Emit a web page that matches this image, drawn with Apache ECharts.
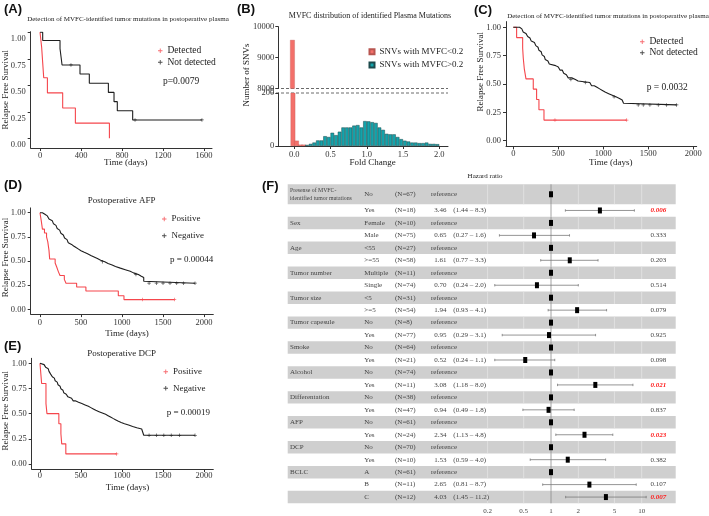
<!DOCTYPE html>
<html><head><meta charset="utf-8">
<script src="https://cdn.jsdelivr.net/npm/echarts@6/dist/echarts.min.js"></script>
<style>html,body{margin:0;padding:0;background:#fff}#c{width:709px;height:516px}</style>
</head><body><div id="c"></div>
<script>
// ---------------- DATA ----------------
// Panel A: Kaplan-Meier (time in days, survival)
const kmA_detected = [[0,1],[16,0.857],[26,0.714],[36,0.571],[72,0.429],[221,0.286],[345,0.143],[677,0]];
const kmA_notDetected = [[0,1],[26,0.923],[195,0.846],[205,0.769],[215,0.692],[390,0.606],[481,0.519],[667,0.433],[722,0.346],[754,0.260],[904,0.173],[1580,0.173]];
const censA_notDetected = [[302,0.692],[927,0.173],[1580,0.173]];
const pA = 'p=0.0079';

// Panel C
const kmC_detected = [[0,1],[37,0.909],[104,0.818],[111,0.727],[122,0.636],[141,0.545],[222,0.455],[259,0.364],[285,0.273],[341,0.182],[1260,0.182]];
const censC_detected = [[463,0.182],[1260,0.182]];
const kmC_notDetected = [[0,1],[70,1],[80,0.986],[95,0.973],[110,0.959],[125,0.946],[140,0.932],[160,0.919],[170,0.905],[185,0.892],[200,0.878],[215,0.865],[235,0.851],[250,0.838],[262,0.824],[275,0.811],[285,0.797],[300,0.784],[310,0.770],[320,0.757],[335,0.743],[345,0.730],[355,0.716],[370,0.703],[385,0.689],[400,0.676],[420,0.662],[470,0.649],[500,0.635],[520,0.622],[545,0.608],[560,0.595],[580,0.581],[590,0.568],[610,0.554],[650,0.540],[690,0.527],[720,0.513],[850,0.499],[870,0.485],[900,0.471],[930,0.457],[960,0.443],[990,0.429],[1020,0.415],[1060,0.401],[1100,0.387],[1140,0.373],[1180,0.359],[1210,0.345],[1225,0.330],[1240,0.316],[1815,0.316]];
const censC_notDetected = [[640,0.540],[800,0.513],[1120,0.387],[1388,0.316],[1444,0.316],[1518,0.316],[1611,0.316],[1704,0.316],[1815,0.316]];
const pC = 'p = 0.0032';

// Panel D (Postoperative AFP)
const kmD_positive = [[0,1],[15,0.92],[30,0.83],[55,0.79],[80,0.75],[95,0.70],[110,0.61],[118,0.52],[185,0.48],[203,0.44],[224,0.39],[244,0.35],[297,0.31],[317,0.27],[447,0.23],[560,0.19],[955,0.14],[1024,0.10],[1640,0.10]];
const censD_positive = [[1250,0.10],[1640,0.10]];
const kmD_negative = [[0,1],[30,0.984],[60,0.967],[90,0.951],[110,0.934],[130,0.918],[150,0.902],[165,0.885],[180,0.869],[195,0.852],[210,0.836],[225,0.820],[240,0.803],[255,0.787],[270,0.770],[285,0.754],[300,0.738],[315,0.721],[330,0.705],[345,0.689],[360,0.672],[385,0.656],[410,0.639],[440,0.623],[470,0.607],[500,0.590],[540,0.574],[580,0.557],[620,0.541],[660,0.525],[700,0.508],[740,0.492],[790,0.475],[830,0.459],[880,0.443],[920,0.426],[980,0.410],[1040,0.393],[1100,0.377],[1140,0.361],[1200,0.344],[1230,0.328],[1265,0.290],[1280,0.270],[1890,0.270]];
const censD_negative = [[760,0.492],[1170,0.361],[1330,0.270],[1420,0.270],[1500,0.270],[1585,0.270],[1667,0.270],[1750,0.270],[1890,0.270]];
const pD = 'p = 0.00044';

// Panel E (Postoperative DCP)
const kmE_positive = [[0,1],[20,0.8],[73,0.6],[85,0.5],[230,0.4],[255,0.3],[265,0.2],[315,0.1],[935,0.1]];
const censE_positive = [[935,0.1]];
const kmE_negative = [[0,1],[20,0.987],[50,0.973],[70,0.96],[85,0.947],[100,0.933],[110,0.92],[120,0.907],[130,0.893],[140,0.88],[150,0.867],[160,0.853],[175,0.84],[185,0.827],[200,0.813],[210,0.80],[220,0.787],[235,0.773],[245,0.76],[255,0.747],[265,0.733],[280,0.72],[290,0.707],[305,0.693],[320,0.68],[340,0.667],[360,0.653],[385,0.64],[405,0.627],[430,0.613],[470,0.60],[510,0.587],[550,0.573],[590,0.56],[620,0.547],[650,0.533],[680,0.52],[720,0.507],[760,0.493],[800,0.48],[830,0.467],[860,0.453],[890,0.44],[920,0.427],[950,0.413],[990,0.40],[1030,0.387],[1080,0.373],[1130,0.36],[1180,0.347],[1240,0.333],[1255,0.31],[1265,0.285],[1890,0.285]];
const censE_negative = [[1330,0.285],[1420,0.285],[1510,0.285],[1600,0.285],[1700,0.285],[1890,0.285]];
const pE = 'p = 0.00019';

const survTicks = [0,0.25,0.5,0.75,1];
const timeTicksA = [0,400,800,1200,1600];
const timeTicks = [0,500,1000,1500,2000];

// Panel B: histogram of MVFC (fold change bins, width 0.05)
const lowBins = [-0.025,0.025,0.075,0.125];
const lowCounts = [9570,20,5,5];
const highBins = [0.175,0.225,0.275,0.325,0.375,0.425,0.475,0.525,0.575,0.625,0.675,0.725,0.775,0.825,0.875,0.925,0.975,1.025,1.075,1.125,1.175,1.225,1.275,1.325,1.375,1.425,1.475,1.525,1.575,1.625,1.675,1.725,1.775,1.825,1.875,1.925,1.975];
const highCounts = [4,8,13,21,21,37,34,50,41,54,70,70,70,77,79,70,94,93,90,87,70,61,46,44,44,34,26,20,17,13,13,11,11,13,8,8,7];
const foldTicks = [0,0.5,1,1.5,2];
const upperTicks = [8000,9000,10000];
const lowerTicks = [0,200];

// Panel F: forest plot
const fVars = ['Presense of MVFC-|identified tumor mutations','','Sex','','Age','','Tumor number','','Tumor size','','Tumor capesule','','Smoke','','Alcohol','','Differentation','','AFP','','DCP','','BCLC','',''];
const fLevels = ['No','Yes','Female','Male','<55','>=55','Multiple','Single','<5','>=5','No','Yes','No','Yes','No','Yes','No','Yes','No','Yes','No','Yes','A','B','C'];
const fN = [67,18,10,75,27,58,11,74,31,54,8,77,64,21,74,11,38,47,61,24,70,10,61,11,12];
const fHR = [null,3.46,null,0.65,null,1.61,null,0.70,null,1.94,null,0.95,null,0.52,null,3.08,null,0.94,null,2.34,null,1.53,null,2.65,4.03];
const fLo = [null,1.44,null,0.27,null,0.77,null,0.24,null,0.93,null,0.29,null,0.24,null,1.18,null,0.49,null,1.13,null,0.59,null,0.81,1.45];
const fHi = [null,8.3,null,1.6,null,3.3,null,2.0,null,4.1,null,3.1,null,1.1,null,8.0,null,1.8,null,4.8,null,4.0,null,8.7,11.2];
const fP = [null,0.006,null,0.333,null,0.203,null,0.514,null,0.079,null,0.925,null,0.098,null,0.021,null,0.837,null,0.023,null,0.382,null,0.107,0.007];
const hrTicks = [0.2,0.5,1,2,5,10];

// ---------------- CHART ----------------
const chart = echarts.init(document.getElementById('c'), null, {renderer:'canvas', width:709, height:516});
const SERIF = 'Liberation Serif';
const SANS = 'Liberation Sans';
const RED = '#F5464C', BLK = '#1e1e1e', AX = '#333';
const PLUS = 'path://M4,0H6V4H10V6H6V10H4V6H0V4H4Z';
const SALMON = '#F3706A', TEAL = '#14A3AB';

function grid(l,t,w,h){return {left:l,top:t,width:w,height:h,containLabel:false,outerBoundsMode:'none'};}
function kmX(gi,min,max,ticks,margin){
  return {type:'value',gridIndex:gi,min:min,max:max,
    axisLine:{show:true,onZero:false,lineStyle:{color:AX,width:1}},
    axisTick:{show:true,length:3,customValues:ticks,lineStyle:{color:AX}},
    axisLabel:{customValues:ticks,margin:margin,fontFamily:SERIF,fontSize:8.5,color:AX,formatter:v=>String(v)},
    splitLine:{show:false}};
}
function kmY(gi,min,max,shiftLabels){
  const lab = {customValues:survTicks,margin:5,fontFamily:SERIF,fontSize:8.5,color:AX,formatter:v=>v.toFixed(2)};
  if (shiftLabels){ lab.verticalAlign='top'; lab.lineHeight=13; }
  return {type:'value',gridIndex:gi,min:min,max:max,
    axisLine:{show:true,onZero:false,lineStyle:{color:AX,width:1}},
    axisTick:{show:true,length:3,customValues:survTicks,lineStyle:{color:AX}},
    axisLabel:lab, splitLine:{show:false}};
}
function kmLine(name,gi,color,data){
  return {type:'line',name:name,xAxisIndex:gi,yAxisIndex:gi,data:data,step:'end',showSymbol:false,symbol:'none',
    lineStyle:{color:color,width:1.1},itemStyle:{color:color},silent:true,animation:false};
}
function kmCens(name,gi,color,data){
  return {type:'scatter',name:name,xAxisIndex:gi,yAxisIndex:gi,data:data,symbol:PLUS,symbolSize:3.5,
    itemStyle:{color:color},silent:true,animation:false};
}

// forest helpers
function rowStart(i){ return i===0 ? 0 : 1.6 + (i-1); }
function rowEnd(i){ return i===0 ? 1.6 : 1.6 + i; }
function rowMid(i){ return (rowStart(i)+rowEnd(i))/2; }
const forestData = fHR.map((h,i)=>[h===null?1:h, rowMid(i), i]);
const FX = {left:287.7,right:675.7,name:290,level:364.3,n:395,est:434.3,ref:431,ci:453.3,p:650.5};

function txt(x,y,s,extra){
  return {type:'text',style:Object.assign({text:s,x:x,y:y,fill:'#444',fontFamily:SERIF,fontSize:7,align:'left',verticalAlign:'middle'},extra||{})};
}
function renderForest(params, api){
  const i = api.value(2);
  const yc = api.coord([1, api.value(1)])[1];
  const y0 = api.coord([1, rowStart(i)])[1];
  const y1 = api.coord([1, rowEnd(i)])[1];
  const xOne = api.coord([1, 0])[0];
  const ch = [];
  if (i % 2 === 0){
    ch.push({type:'rect',shape:{x:FX.left,y:y0,width:FX.right-FX.left,height:y1-y0},style:{fill:'#CFCFCF'}});
    hrTicks.forEach(t=>{ if(t!==1){ const xx=api.coord([t,0])[0];
      ch.push({type:'line',shape:{x1:xx,y1:y0,x2:xx,y2:y1},style:{stroke:'#E4E4E4',lineWidth:0.8}}); }});
  }
  ch.push({type:'line',shape:{x1:xOne,y1:y0,x2:xOne,y2:y1},style:{stroke:'#8a8a8a',lineWidth:0.8}});
  if (i === 0){
    const parts = fVars[0].split('|');
    ch.push(txt(FX.name, yc-3.8, parts[0], {fontSize:5.8}));
    ch.push(txt(FX.name, yc+3.8, parts[1], {fontSize:5.8}));
  } else if (fVars[i]) {
    ch.push(txt(FX.name, yc, fVars[i]));
  }
  ch.push(txt(FX.level, yc, fLevels[i]));
  ch.push(txt(FX.n, yc, '(N=' + fN[i] + ')'));
  if (fHR[i] === null){
    ch.push(txt(FX.ref, yc, 'reference'));
  } else {
    ch.push(txt(FX.est, yc, fHR[i].toFixed(2)));
    ch.push(txt(FX.ci, yc, '(' + fLo[i].toFixed(2) + ' \u2013 ' + fHi[i].toFixed(1) + ')'));
    const xl = api.coord([fLo[i],0])[0], xh = api.coord([fHi[i],0])[0];
    ch.push({type:'line',shape:{x1:xl,y1:yc,x2:xh,y2:yc},style:{stroke:'#7a7a7a',lineWidth:0.8}});
    ch.push({type:'line',shape:{x1:xl,y1:yc-1.2,x2:xl,y2:yc+1.2},style:{stroke:'#7a7a7a',lineWidth:0.8}});
    ch.push({type:'line',shape:{x1:xh,y1:yc-1.2,x2:xh,y2:yc+1.2},style:{stroke:'#7a7a7a',lineWidth:0.8}});
    const sig = fP[i] < 0.05;
    ch.push(txt(FX.p, yc, fP[i].toFixed(3), sig ? {fill:'#FF1A1A',fontStyle:'italic',fontWeight:'bold'} : {}));
  }
  const xb = api.coord([api.value(0),0])[0];
  ch.push({type:'rect',shape:{x:xb-2,y:yc-3,width:4,height:6},style:{fill:'#000'}});
  return {type:'group',children:ch};
}

const gtext = (x,y,s,size,extra)=>({type:'text',x:x,y:y,silent:true,
  style:Object.assign({text:s,fill:'#222',fontFamily:SERIF,fontSize:size,align:'center',verticalAlign:'middle'},extra||{})});
const panelLab = (x,y,s)=>gtext(x,y,s,13,{fontFamily:SANS,fontWeight:'bold',align:'left',fill:'#111'});
const yName = (x,y,s)=>Object.assign(gtext(x,y,s,9),{rotation:Math.PI/2});

const legendBase = {orient:'vertical',padding:0,itemWidth:4.5,itemHeight:4.5,icon:PLUS,
  textStyle:{fontFamily:SERIF,fontSize:9.5,color:'#222',lineHeight:11},selectedMode:false};

const option = {
  animation:false,
  backgroundColor:'#fff',
  grid:[
    grid(30.7,31.7,181.3,116.3),   // 0 A
    grid(278.3,26.7,169.7,61.8),   // 1 B upper
    grid(278.3,93,169.7,53),       // 2 B lower
    grid(506,21.6,190.7,124.8),    // 3 C
    grid(30.7,207.9,182.6,106.2),  // 4 D
    grid(31.7,358.3,181.6,110.7),  // 5 E
    grid(287.7,184.3,388,319)      // 6 F
  ],
  xAxis:[
    kmX(0,-91,1678,timeTicksA,3),
    {type:'value',gridIndex:1,min:-0.22,max:2.12,show:false},
    {type:'value',gridIndex:2,min:-0.22,max:2.12,
      axisLine:{show:true,onZero:false,lineStyle:{color:AX}},
      axisTick:{show:true,length:3,customValues:foldTicks,lineStyle:{color:AX}},
      axisLabel:{customValues:foldTicks,margin:4,fontFamily:SERIF,fontSize:8.5,color:AX,formatter:v=>v.toFixed(1)},
      splitLine:{show:false}},
    kmX(3,-81,2038,timeTicks,2.5),
    kmX(4,-113,2113,timeTicks,4.5),
    kmX(5,-101,2113,timeTicks,2.5),
    {type:'log',gridIndex:6,min:0.001252,max:23.69,logBase:10,
      axisLine:{show:false},axisTick:{show:false,customValues:hrTicks},
      axisLabel:{customValues:hrTicks,margin:4,fontFamily:SERIF,fontSize:7,color:'#444',formatter:v=>String(v)},
      splitLine:{show:false}}
  ],
  yAxis:[
    kmY(0,-0.0915,1.0057,true),
    {type:'value',gridIndex:1,min:8000,max:10000,
      axisLine:{show:true,onZero:false,lineStyle:{color:AX}},
      axisTick:{show:true,length:3,customValues:upperTicks,lineStyle:{color:AX}},
      axisLabel:{customValues:upperTicks,margin:4,fontFamily:SERIF,fontSize:8.5,color:AX,formatter:v=>String(v)},
      splitLine:{show:false}},
    {type:'value',gridIndex:2,min:0,max:200,
      axisLine:{show:true,onZero:false,lineStyle:{color:AX}},
      axisTick:{show:true,length:3,customValues:lowerTicks,lineStyle:{color:AX}},
      axisLabel:{customValues:lowerTicks,margin:4,fontFamily:SERIF,fontSize:8.5,color:AX,formatter:v=>String(v)},
      splitLine:{show:false}},
    kmY(3,-0.05,1.05,false),
    kmY(4,-0.05,1.05,false),
    kmY(5,-0.05,1.05,false),
    {type:'value',gridIndex:6,min:0,max:25.6,inverse:true,show:false}
  ],
  legend:[
    Object.assign({},legendBase,{data:['Detected','Not detected'],left:158,top:45.2,itemGap:0.6}),
    Object.assign({},legendBase,{data:['Detected','Not detected'],left:640,top:36.2,itemGap:0}),
    Object.assign({},legendBase,{data:['Positive','Negative'],left:162,top:213.5,itemGap:5.7,textStyle:Object.assign({},legendBase.textStyle,{fontSize:9})}),
    Object.assign({},legendBase,{data:['Positive','Negative'],left:163.5,top:366.2,itemGap:5.6,textStyle:Object.assign({},legendBase.textStyle,{fontSize:9})}),
    Object.assign({},legendBase,{data:['SNVs with MVFC<0.2','SNVs with MVFC>0.2'],icon:'rect',itemWidth:5,itemHeight:5,left:368.5,top:46.2,itemGap:2.3,textStyle:Object.assign({},legendBase.textStyle,{fontSize:9})})
  ],
  series:[
    kmLine('A detected',0,RED,kmA_detected),
    kmLine('A not detected',0,BLK,kmA_notDetected),
    kmCens('Not detected',0,BLK,censA_notDetected),
    kmLine('C detected',3,RED,kmC_detected),
    kmLine('C not detected',3,BLK,kmC_notDetected),
    kmCens('Detected',3,RED,censC_detected),
    kmCens('Not detected',3,BLK,censC_notDetected),
    kmLine('D positive',4,RED,kmD_positive),
    kmLine('D negative',4,BLK,kmD_negative),
    kmCens('Positive',4,RED,censD_positive),
    kmCens('Negative',4,BLK,censD_negative),
    kmLine('E positive',5,RED,kmE_positive),
    kmLine('E negative',5,BLK,kmE_negative),
    kmCens('Positive',5,RED,censE_positive),
    kmCens('Negative',5,BLK,censE_negative),
    {type:'bar',name:'SNVs with MVFC<0.2',xAxisIndex:1,yAxisIndex:1,barWidth:4.6,barGap:'-100%',
      data:lowBins.map((b,i)=>[b,lowCounts[i]]).filter(d=>d[1]>8000),
      itemStyle:{color:SALMON,borderColor:'#b85550',borderWidth:0.3}},
    {type:'bar',name:'SNVs with MVFC<0.2',xAxisIndex:2,yAxisIndex:2,barWidth:4.6,barGap:'-100%',
      data:lowBins.map((b,i)=>[b,lowCounts[i]]),
      itemStyle:{color:SALMON,borderColor:'#b85550',borderWidth:0.3}},
    {type:'bar',name:'SNVs with MVFC>0.2',xAxisIndex:2,yAxisIndex:2,barWidth:3.6,barGap:'-100%',
      data:highBins.map((b,i)=>[b,highCounts[i]]),
      itemStyle:{color:TEAL,borderColor:'#1c4a4c',borderWidth:0.5}},
    {type:'custom',name:'forest',xAxisIndex:6,yAxisIndex:6,data:forestData,renderItem:renderForest,clip:false,silent:true}
  ],
  graphic:[
    panelLab(4,9,'(A)'), panelLab(237,9.5,'(B)'), panelLab(474,10,'(C)'),
    panelLab(4,185.5,'(D)'), panelLab(4,346,'(E)'), panelLab(262,186.7,'(F)'),
    gtext(128,19,'Detection of MVFC-identified tumor mutations in postoperative plasma',7),
    gtext(370,15.7,'MVFC distribution of identified Plasma Mutations',8),
    gtext(608,15.7,'Detection of MVFC-identified tumor mutations in postoperative plasma',7),
    gtext(121.7,200.7,'Postoperative AFP',9),
    gtext(121.7,354,'Postoperative DCP',9),
    gtext(485,175.7,'Hazard ratio',7),
    yName(5.5,89.8,'Relapse Free Survival'),
    yName(481,71.7,'Relapse Free Survival'),
    yName(5.5,257.5,'Relapse Free Survival'),
    yName(5.5,410.8,'Relapse Free Survival'),
    yName(246.7,75,'Number of SNVs'),
    gtext(125.7,163,'Time (days)',9),
    gtext(610.7,162.7,'Time (days)',9),
    gtext(127,334,'Time (days)',9),
    gtext(127.5,487.7,'Time (days)',9),
    gtext(372.7,163,'Fold Change',9),
    gtext(163,81,pA,9.5,{align:'left'}),
    gtext(646.7,87.3,pC,9.5,{align:'left'}),
    gtext(170,260,pD,9,{align:'left'}),
    gtext(166.7,412.3,pE,9,{align:'left'}),
    {type:'line',silent:true,shape:{x1:271,y1:88.5,x2:448,y2:88.5},style:{stroke:'#444',lineWidth:0.8,lineDash:[3,2]}},
    {type:'line',silent:true,shape:{x1:271,y1:93,x2:448,y2:93},style:{stroke:'#444',lineWidth:0.8,lineDash:[3,2]}}
  ]
};
chart.setOption(option);
</script></body></html>
